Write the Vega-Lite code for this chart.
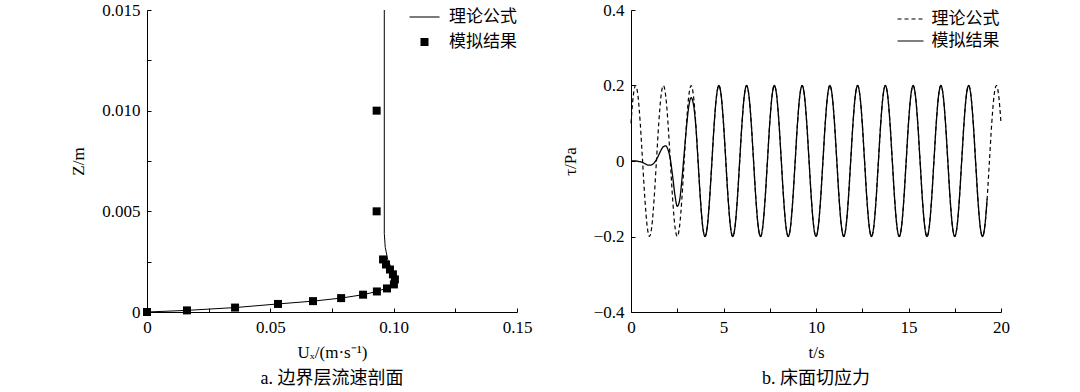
{
  "$schema": "https://vega.github.io/schema/vega-lite/v6.json",
  "background": "white",
  "padding": {"left": 69, "top": 1, "right": 5, "bottom": 3},
  "config": {
    "view": {"stroke": null},
    "font": "Liberation Serif, Noto Sans CJK SC",
    "axis": {
      "grid": false,
      "domainColor": "#000",
      "domainWidth": 1,
      "tickColor": "#000",
      "tickWidth": 1,
      "tickSize": -4,
      "labelFont": "Liberation Serif, Noto Sans CJK SC",
      "labelFontSize": 17,
      "labelColor": "#000",
      "labelPadding": 11,
      "labelFlush": false,
      "titleFont": "Liberation Serif, Noto Sans CJK SC",
      "titleFontSize": 17,
      "titleFontWeight": "normal",
      "titleColor": "#000",
      "titlePadding": 9
    },
    "axisY": {"titlePadding": 14},
    "legend": {
      "orient": "none",
      "padding": 0,
      "labelFont": "Liberation Serif, Noto Sans CJK SC",
      "labelFontSize": 17,
      "labelColor": "#000",
      "title": null
    },
    "title": {
      "font": "Liberation Serif, Noto Sans CJK SC",
      "fontSize": 18,
      "fontWeight": "normal",
      "color": "#000"
    }
  },
  "spacing": 29,
  "resolve": {
    "scale": {"x": "independent", "y": "independent", "shape": "independent", "strokeDash": "independent"},
    "legend": {"shape": "independent", "strokeDash": "independent"}
  },
  "hconcat": [
    {
      "width": 370,
      "height": 302,
      "title": {"text": "a. 边界层流速剖面", "orient": "bottom", "anchor": "middle", "offset": 10},
      "layer": [
        {
          "data": {"values": [
            {"u": 0, "z": 0},
            {"u": 0.0162, "z": 0.00008},
            {"u": 0.0357, "z": 0.00022},
            {"u": 0.0531, "z": 0.0004},
            {"u": 0.0673, "z": 0.00054},
            {"u": 0.0787, "z": 0.00069},
            {"u": 0.0876, "z": 0.00086},
            {"u": 0.0932, "z": 0.00102},
            {"u": 0.0975, "z": 0.0012},
            {"u": 0.1, "z": 0.0014},
            {"u": 0.1006, "z": 0.0016},
            {"u": 0.1, "z": 0.0019},
            {"u": 0.099, "z": 0.0022},
            {"u": 0.0976, "z": 0.0026},
            {"u": 0.0966, "z": 0.0032},
            {"u": 0.0962, "z": 0.0039},
            {"u": 0.0962, "z": 0.015}
          ]},
          "mark": {"type": "line", "color": "#000", "strokeWidth": 1},
          "encoding": {
            "x": {"field": "u", "type": "quantitative", "scale": {"domain": [0, 0.15], "nice": false},
              "axis": {"title": "Uₓ/(m·s⁻¹)", "values": [0, 0.025, 0.05, 0.075, 0.1, 0.125, 0.15],
                "labelExpr": "datum.value == 0 ? '0' : (abs(datum.value*20 - round(datum.value*20)) < 0.001 ? format(datum.value, '.2f') : '')"}},
            "y": {"field": "z", "type": "quantitative", "scale": {"domain": [0, 0.015], "nice": false},
              "axis": {"title": "Z/m", "values": [0, 0.0025, 0.005, 0.0075, 0.01, 0.0125, 0.015],
                "labelExpr": "datum.value == 0 ? '0' : (abs(datum.value*200 - round(datum.value*200)) < 0.001 ? format(datum.value, '.3f') : '')"}},
            "order": {"field": "z", "type": "quantitative"}
          }
        },
        {
          "data": {"values": [
            {"u": 0, "z": 0},
            {"u": 0.0162, "z": 0.00008},
            {"u": 0.0357, "z": 0.00022},
            {"u": 0.0531, "z": 0.0004},
            {"u": 0.0673, "z": 0.00054},
            {"u": 0.0787, "z": 0.00069},
            {"u": 0.0876, "z": 0.00086},
            {"u": 0.0932, "z": 0.00102},
            {"u": 0.0973, "z": 0.00117},
            {"u": 0.1001, "z": 0.00137},
            {"u": 0.1005, "z": 0.00162},
            {"u": 0.0997, "z": 0.00187},
            {"u": 0.0985, "z": 0.00211},
            {"u": 0.0969, "z": 0.00236},
            {"u": 0.0957, "z": 0.00261},
            {"u": 0.0931, "z": 0.005},
            {"u": 0.0931, "z": 0.01}
          ]},
          "mark": {"type": "point", "filled": true, "color": "#000", "size": 64, "opacity": 1},
          "encoding": {
            "x": {"field": "u", "type": "quantitative"},
            "y": {"field": "z", "type": "quantitative"},
            "shape": {"datum": "模拟结果", "type": "nominal",
              "scale": {"domain": ["理论公式", "模拟结果"], "range": ["M-3.75,-0.13H3.75V0.13H-3.75Z", "square"]},
              "legend": {"symbolSize": 64, "labelOffset": 16, "rowPadding": 7, "legendX": 269, "legendY": -1.5,
                "symbolFillColor": "#000", "symbolStrokeWidth": 0, "symbolOpacity": 1}}
          }
        }
      ]
    },
    {
      "width": 370,
      "height": 302,
      "title": {"text": "b. 床面切应力", "orient": "bottom", "anchor": "middle", "offset": 10},
      "data": {"values": [
        {"t": 0, "th": 0.1, "sim": 0},
        {"t": 0.125, "th": 0.1732, "sim": 0},
        {"t": 0.25, "th": 0.2, "sim": 0},
        {"t": 0.375, "th": 0.1732, "sim": -0.001},
        {"t": 0.5, "th": 0.1, "sim": -0.002},
        {"t": 0.625, "th": 0, "sim": -0.004},
        {"t": 0.75, "th": -0.1, "sim": -0.007},
        {"t": 0.875, "th": -0.1732, "sim": -0.01},
        {"t": 1, "th": -0.2, "sim": -0.011},
        {"t": 1.125, "th": -0.1732, "sim": -0.01},
        {"t": 1.25, "th": -0.1, "sim": -0.005},
        {"t": 1.375, "th": 0, "sim": 0.004},
        {"t": 1.5, "th": 0.1, "sim": 0.016},
        {"t": 1.625, "th": 0.1732, "sim": 0.029},
        {"t": 1.75, "th": 0.2, "sim": 0.038},
        {"t": 1.875, "th": 0.1732, "sim": 0.04},
        {"t": 2, "th": 0.1, "sim": 0.03},
        {"t": 2.125, "th": 0, "sim": 0.005},
        {"t": 2.25, "th": -0.1, "sim": -0.04},
        {"t": 2.375, "th": -0.1732, "sim": -0.09},
        {"t": 2.5, "th": -0.2, "sim": -0.12},
        {"t": 2.625, "th": -0.1732, "sim": -0.105},
        {"t": 2.75, "th": -0.1, "sim": -0.05},
        {"t": 2.875, "th": 0, "sim": 0.02},
        {"t": 3, "th": 0.1, "sim": 0.09},
        {"t": 3.125, "th": 0.1732, "sim": 0.145},
        {"t": 3.25, "th": 0.2, "sim": 0.168},
        {"t": 3.375, "th": 0.1732, "sim": 0.15},
        {"t": 3.5, "th": 0.1, "sim": 0.095},
        {"t": 3.625, "th": 0, "sim": 0},
        {"t": 3.75, "th": -0.1, "sim": -0.1},
        {"t": 3.875, "th": -0.1732, "sim": -0.1732},
        {"t": 4, "th": -0.2, "sim": -0.2},
        {"t": 4.125, "th": -0.1732, "sim": -0.1732},
        {"t": 4.25, "th": -0.1, "sim": -0.1},
        {"t": 4.375, "th": 0, "sim": 0},
        {"t": 4.5, "th": 0.1, "sim": 0.1},
        {"t": 4.625, "th": 0.1732, "sim": 0.1732},
        {"t": 4.75, "th": 0.2, "sim": 0.2},
        {"t": 4.875, "th": 0.1732, "sim": 0.1732},
        {"t": 5, "th": 0.1, "sim": 0.1},
        {"t": 5.125, "th": 0, "sim": 0},
        {"t": 5.25, "th": -0.1, "sim": -0.1},
        {"t": 5.375, "th": -0.1732, "sim": -0.1732},
        {"t": 5.5, "th": -0.2, "sim": -0.2},
        {"t": 5.625, "th": -0.1732, "sim": -0.1732},
        {"t": 5.75, "th": -0.1, "sim": -0.1},
        {"t": 5.875, "th": 0, "sim": 0},
        {"t": 6, "th": 0.1, "sim": 0.1},
        {"t": 6.125, "th": 0.1732, "sim": 0.1732},
        {"t": 6.25, "th": 0.2, "sim": 0.2},
        {"t": 6.375, "th": 0.1732, "sim": 0.1732},
        {"t": 6.5, "th": 0.1, "sim": 0.1},
        {"t": 6.625, "th": 0, "sim": 0},
        {"t": 6.75, "th": -0.1, "sim": -0.1},
        {"t": 6.875, "th": -0.1732, "sim": -0.1732},
        {"t": 7, "th": -0.2, "sim": -0.2},
        {"t": 7.125, "th": -0.1732, "sim": -0.1732},
        {"t": 7.25, "th": -0.1, "sim": -0.1},
        {"t": 7.375, "th": 0, "sim": 0},
        {"t": 7.5, "th": 0.1, "sim": 0.1},
        {"t": 7.625, "th": 0.1732, "sim": 0.1732},
        {"t": 7.75, "th": 0.2, "sim": 0.2},
        {"t": 7.875, "th": 0.1732, "sim": 0.1732},
        {"t": 8, "th": 0.1, "sim": 0.1},
        {"t": 8.125, "th": 0, "sim": 0},
        {"t": 8.25, "th": -0.1, "sim": -0.1},
        {"t": 8.375, "th": -0.1732, "sim": -0.1732},
        {"t": 8.5, "th": -0.2, "sim": -0.2},
        {"t": 8.625, "th": -0.1732, "sim": -0.1732},
        {"t": 8.75, "th": -0.1, "sim": -0.1},
        {"t": 8.875, "th": 0, "sim": 0},
        {"t": 9, "th": 0.1, "sim": 0.1},
        {"t": 9.125, "th": 0.1732, "sim": 0.1732},
        {"t": 9.25, "th": 0.2, "sim": 0.2},
        {"t": 9.375, "th": 0.1732, "sim": 0.1732},
        {"t": 9.5, "th": 0.1, "sim": 0.1},
        {"t": 9.625, "th": 0, "sim": 0},
        {"t": 9.75, "th": -0.1, "sim": -0.1},
        {"t": 9.875, "th": -0.1732, "sim": -0.1732},
        {"t": 10, "th": -0.2, "sim": -0.2},
        {"t": 10.125, "th": -0.1732, "sim": -0.1732},
        {"t": 10.25, "th": -0.1, "sim": -0.1},
        {"t": 10.375, "th": 0, "sim": 0},
        {"t": 10.5, "th": 0.1, "sim": 0.1},
        {"t": 10.625, "th": 0.1732, "sim": 0.1732},
        {"t": 10.75, "th": 0.2, "sim": 0.2},
        {"t": 10.875, "th": 0.1732, "sim": 0.1732},
        {"t": 11, "th": 0.1, "sim": 0.1},
        {"t": 11.125, "th": 0, "sim": 0},
        {"t": 11.25, "th": -0.1, "sim": -0.1},
        {"t": 11.375, "th": -0.1732, "sim": -0.1732},
        {"t": 11.5, "th": -0.2, "sim": -0.2},
        {"t": 11.625, "th": -0.1732, "sim": -0.1732},
        {"t": 11.75, "th": -0.1, "sim": -0.1},
        {"t": 11.875, "th": 0, "sim": 0},
        {"t": 12, "th": 0.1, "sim": 0.1},
        {"t": 12.125, "th": 0.1732, "sim": 0.1732},
        {"t": 12.25, "th": 0.2, "sim": 0.2},
        {"t": 12.375, "th": 0.1732, "sim": 0.1732},
        {"t": 12.5, "th": 0.1, "sim": 0.1},
        {"t": 12.625, "th": 0, "sim": 0},
        {"t": 12.75, "th": -0.1, "sim": -0.1},
        {"t": 12.875, "th": -0.1732, "sim": -0.1732},
        {"t": 13, "th": -0.2, "sim": -0.2},
        {"t": 13.125, "th": -0.1732, "sim": -0.1732},
        {"t": 13.25, "th": -0.1, "sim": -0.1},
        {"t": 13.375, "th": 0, "sim": 0},
        {"t": 13.5, "th": 0.1, "sim": 0.1},
        {"t": 13.625, "th": 0.1732, "sim": 0.1732},
        {"t": 13.75, "th": 0.2, "sim": 0.2},
        {"t": 13.875, "th": 0.1732, "sim": 0.1732},
        {"t": 14, "th": 0.1, "sim": 0.1},
        {"t": 14.125, "th": 0, "sim": 0},
        {"t": 14.25, "th": -0.1, "sim": -0.1},
        {"t": 14.375, "th": -0.1732, "sim": -0.1732},
        {"t": 14.5, "th": -0.2, "sim": -0.2},
        {"t": 14.625, "th": -0.1732, "sim": -0.1732},
        {"t": 14.75, "th": -0.1, "sim": -0.1},
        {"t": 14.875, "th": 0, "sim": 0},
        {"t": 15, "th": 0.1, "sim": 0.1},
        {"t": 15.125, "th": 0.1732, "sim": 0.1732},
        {"t": 15.25, "th": 0.2, "sim": 0.2},
        {"t": 15.375, "th": 0.1732, "sim": 0.1732},
        {"t": 15.5, "th": 0.1, "sim": 0.1},
        {"t": 15.625, "th": 0, "sim": 0},
        {"t": 15.75, "th": -0.1, "sim": -0.1},
        {"t": 15.875, "th": -0.1732, "sim": -0.1732},
        {"t": 16, "th": -0.2, "sim": -0.2},
        {"t": 16.125, "th": -0.1732, "sim": -0.1732},
        {"t": 16.25, "th": -0.1, "sim": -0.1},
        {"t": 16.375, "th": 0, "sim": 0},
        {"t": 16.5, "th": 0.1, "sim": 0.1},
        {"t": 16.625, "th": 0.1732, "sim": 0.1732},
        {"t": 16.75, "th": 0.2, "sim": 0.2},
        {"t": 16.875, "th": 0.1732, "sim": 0.1732},
        {"t": 17, "th": 0.1, "sim": 0.1},
        {"t": 17.125, "th": 0, "sim": 0},
        {"t": 17.25, "th": -0.1, "sim": -0.1},
        {"t": 17.375, "th": -0.1732, "sim": -0.1732},
        {"t": 17.5, "th": -0.2, "sim": -0.2},
        {"t": 17.625, "th": -0.1732, "sim": -0.1732},
        {"t": 17.75, "th": -0.1, "sim": -0.1},
        {"t": 17.875, "th": 0, "sim": 0},
        {"t": 18, "th": 0.1, "sim": 0.1},
        {"t": 18.125, "th": 0.1732, "sim": 0.1732},
        {"t": 18.25, "th": 0.2, "sim": 0.2},
        {"t": 18.375, "th": 0.1732, "sim": 0.1732},
        {"t": 18.5, "th": 0.1, "sim": 0.1},
        {"t": 18.625, "th": 0, "sim": 0},
        {"t": 18.75, "th": -0.1, "sim": -0.1},
        {"t": 18.875, "th": -0.1732, "sim": -0.1732},
        {"t": 19, "th": -0.2, "sim": -0.2},
        {"t": 19.125, "th": -0.1732, "sim": -0.1732},
        {"t": 19.25, "th": -0.1, "sim": -0.1},
        {"t": 19.375, "th": 0},
        {"t": 19.5, "th": 0.1},
        {"t": 19.625, "th": 0.1732},
        {"t": 19.75, "th": 0.2},
        {"t": 19.875, "th": 0.1732},
        {"t": 20, "th": 0.1}
      ]},
      "encoding": {
        "x": {"field": "t", "type": "quantitative", "scale": {"domain": [0, 20], "nice": false},
          "axis": {"title": "t/s", "values": [0, 2.5, 5, 7.5, 10, 12.5, 15, 17.5, 20],
            "labelExpr": "datum.value % 5 == 0 ? format(datum.value, 'd') : ''"}}
      },
      "layer": [
        {
          "mark": {"type": "line", "color": "#000", "strokeWidth": 1.2, "interpolate": "monotone"},
          "encoding": {
            "y": {"field": "th", "type": "quantitative", "scale": {"domain": [-0.4, 0.4], "nice": false},
              "axis": {"title": "τ/Pa", "values": [-0.4, -0.3, -0.2, -0.1, 0, 0.1, 0.2, 0.3, 0.4],
                "labelExpr": "datum.value == 0 ? '0' : (abs(datum.value*5 - round(datum.value*5)) < 0.001 ? format(datum.value, '.1f') : '')"}},
            "strokeDash": {"datum": "理论公式", "type": "nominal",
              "scale": {"domain": ["理论公式", "模拟结果"], "range": [[4, 3], [1, 0]]},
              "legend": {"symbolType": "M-1.04,0H1.04", "symbolSize": 625, "symbolStrokeWidth": 1.2, "symbolStrokeColor": "#000", "labelOffset": 7.5, "rowPadding": 0,
                "legendX": 266, "legendY": -4.5}}
          }
        },
        {
          "mark": {"type": "line", "color": "#000", "strokeWidth": 1.3, "interpolate": "monotone"},
          "encoding": {
            "y": {"field": "sim", "type": "quantitative"},
            "strokeDash": {"datum": "模拟结果", "type": "nominal"}
          }
        }
      ]
    }
  ]
}
